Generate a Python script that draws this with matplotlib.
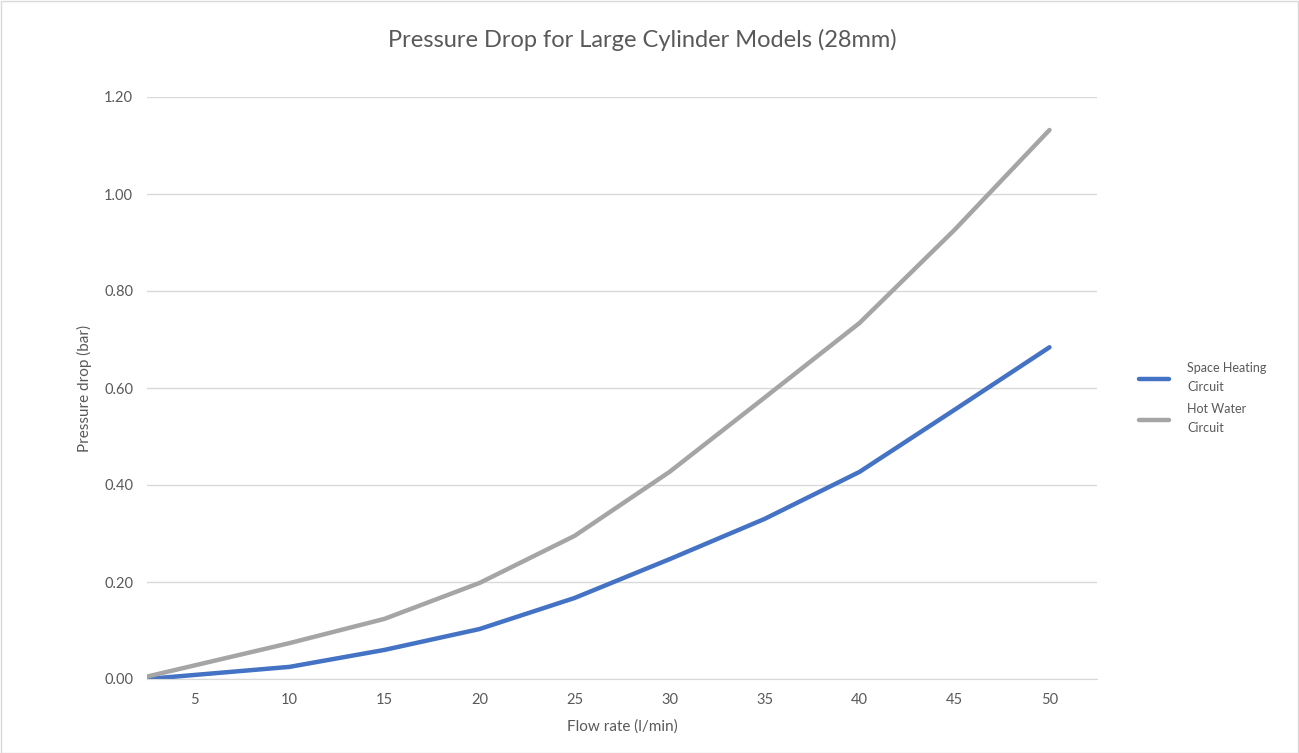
import matplotlib.pyplot as plt
from matplotlib.patches import Rectangle

flow = [2.5, 10, 15, 20, 25, 30, 35, 40, 45, 50]
space_heating = [0.0, 0.025, 0.060, 0.103, 0.167, 0.247, 0.330, 0.427, 0.555, 0.684]
hot_water = [0.005, 0.074, 0.124, 0.198, 0.295, 0.427, 0.580, 0.734, 0.926, 1.132]
xticks = [5, 10, 15, 20, 25, 30, 35, 40, 45, 50]
yticks = [0.0, 0.2, 0.4, 0.6, 0.8, 1.0, 1.2]

plt.rcParams['font.family'] = ['Lato', 'DejaVu Sans']
txt = '#595959'

W, H = 1299, 753
fig = plt.figure(figsize=(W / 100, H / 100), dpi=100)
ax = fig.add_axes([147 / W, 1 - 679 / H, (1097 - 147) / W, (679 - 97) / H])

ax.plot(flow, space_heating, color='#4472C4', lw=3.2, solid_capstyle='round',
        label='Space Heating\nCircuit')
ax.plot(flow, hot_water, color='#A5A5A5', lw=3.2, solid_capstyle='round',
        label='Hot Water\nCircuit')

ax.set_xlim(2.5, 52.5)
ax.set_ylim(0, 1.2)
ax.set_xticks(xticks)
ax.set_yticks(yticks)
ax.set_yticklabels(['%.2f' % v for v in yticks])
ax.grid(axis='y', color='#D9D9D9', lw=1)
ax.set_axisbelow(True)
for s in ['top', 'right', 'left']:
    ax.spines[s].set_visible(False)
ax.spines['bottom'].set_color('#D9D9D9')
ax.tick_params(length=0, colors=txt, labelsize=10.5, pad=10)

ax.set_xlabel('Flow rate (l/min)', color=txt, fontsize=11, labelpad=9)
ax.set_ylabel('Pressure drop (bar)', color=txt, fontsize=11, labelpad=9)
fig.text(642 / W, 1 - 40 / H, 'Pressure Drop for Large Cylinder Models (28mm)',
         ha='center', va='center', color=txt, fontsize=17)

leg = ax.legend(loc='center left', bbox_to_anchor=(1.032, 0.482), frameon=False,
                fontsize=9, handlelength=2.4, labelspacing=0.8, handletextpad=1.5)
for t in leg.get_texts():
    t.set_color(txt)
    t.set_linespacing(1.7)

fig.patches.append(Rectangle((0.5 / W, 0.5 / H), 1 - 1.5 / W, 1 - 1.5 / H,
                             transform=fig.transFigure, fill=False,
                             edgecolor='#D9D9D9', lw=1))

fig.savefig('out.png', dpi=100)
